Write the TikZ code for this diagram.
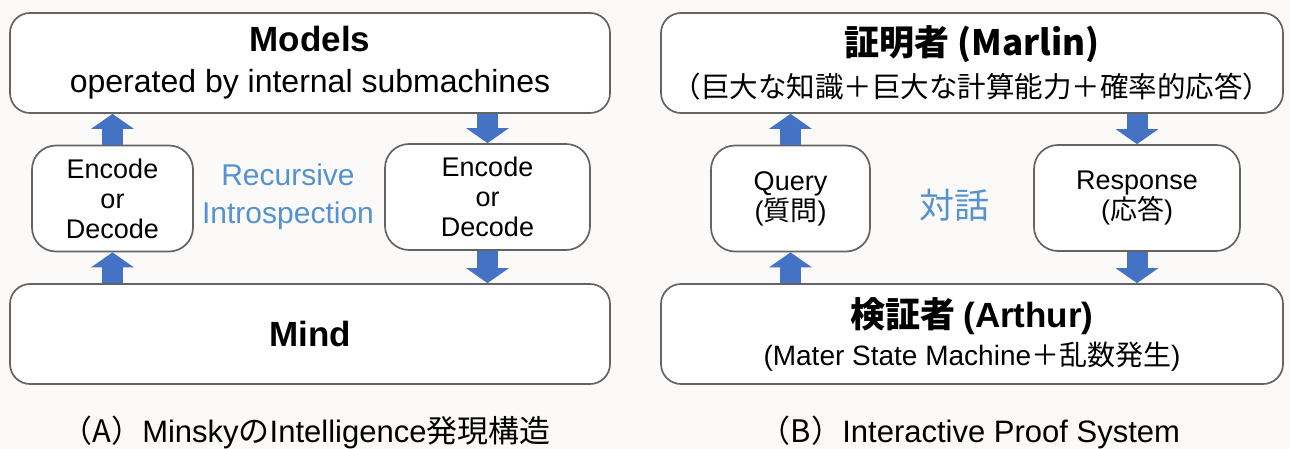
\documentclass[tikz,border=0pt]{standalone}
\usepackage{fontspec}
\setmainfont{Liberation Sans}
\newfontfamily\jp{Noto Sans CJK JP}
\usetikzlibrary{arrows.meta}
\definecolor{arrblue}{RGB}{68,114,196}
\definecolor{txtblue}{RGB}{84,146,210}
\definecolor{boxline}{RGB}{100,100,100}
\definecolor{paper}{RGB}{251,250,248}
\tikzset{
  bigbox/.style = {draw=boxline, line width=1.7pt, rounded corners=20pt, fill=white,
                   minimum width=#1, minimum height=100pt, align=center, inner sep=0pt},
  midbox/.style = {draw=boxline, line width=1.7pt, rounded corners=24pt, fill=white,
                   minimum width=#1, minimum height=106pt, align=center, inner sep=0pt,
                   font=\fontsize{27}{30}\selectfont},
  blk/.style    = {-{Triangle[width=42pt,length=15pt]}, draw=arrblue, line width=21pt},
  note/.style   = {text=txtblue, align=center},
  figcap/.style = {font=\fontsize{31}{34}\selectfont},
}
\newcommand{\hd}[1]{{\fontsize{35}{40}\selectfont\bfseries #1}}

\begin{document}
\begin{tikzpicture}[x=1pt, y=-1pt]
  \fill[paper] (0,0) rectangle (1290,449);
  \useasboundingbox (0,0) rectangle (1290,449);

  % (A) left half
  \node[bigbox=600pt, font=\fontsize{32}{41}\selectfont] (models) at (310,63)
    {\hd{Models}\\operated by internal submachines};
  \node[midbox=161pt] (enc1) at (112.5,198.5) {Encode\\or\\Decode};
  \node[midbox=205pt] (enc2) at (487.5,197) {Encode\\or\\Decode};
  \node[note, font=\fontsize{30}{38}\selectfont] (recur) at (288,197) {Recursive\\Introspection};
  \node[bigbox=600pt] (mind) at (310,334) {\hd{Mind}};
  \node[figcap] (capA) at (306,432)
    {{\jp （A）}Minsky{\jp の}Intelligence{\jp 発現構造}};
  \draw[blk] (enc1.north) -- (enc1.north |- models.south);
  \draw[blk] (enc1.south |- mind.north) -- (enc1.south);
  \draw[blk] (enc2.north |- models.south) -- (enc2.north);
  \draw[blk] (enc2.south) -- (enc2.south |- mind.north);

  % (B) right half
  \node[bigbox=622pt, font=\fontsize{28.5}{42}\selectfont\jp] (marlin) at (972,63)
    {\hd{\jp 証明者 }\hd{(Marlin)}\\（巨大な知識＋巨大な計算能力＋確率的応答）};
  \node[midbox=159pt] (query) at (790.5,198.5) {Query\\({\jp 質問})};
  \node[midbox=206pt] (resp) at (1137,198) {Response\\({\jp 応答})};
  \node[note, font=\fontsize{35}{40}\selectfont\jp] (dialog) at (954,205) {対話};
  \node[bigbox=622pt, font=\fontsize{28}{38}\selectfont] (arthur) at (972,334)
    {\hd{\jp 検証者 }\hd{(Arthur)}\\(Mater State Machine{\jp ＋乱数発生})};
  \node[figcap] (capB) at (970,432) {{\jp （B）}Interactive Proof System};
  \draw[blk] (query.north) -- (query.north |- marlin.south);
  \draw[blk] (query.south |- arthur.north) -- (query.south);
  \draw[blk] (resp.north |- marlin.south) -- (resp.north);
  \draw[blk] (resp.south) -- (resp.south |- arthur.north);
\end{tikzpicture}
\end{document}
